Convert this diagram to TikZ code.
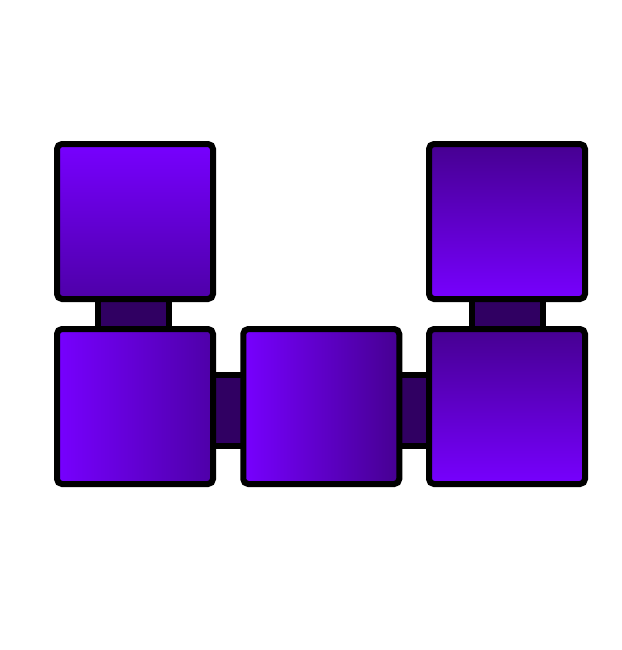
\documentclass[tikz,border=0pt]{standalone}
\begin{document}
\begin{tikzpicture}[x=1pt,y=-1pt,
  box/.style={draw=black,line width=6pt,rounded corners=5pt,inner sep=0pt,minimum width=156pt,minimum height=155pt},
  conn/.style={fill=conncol,draw=black,line width=6pt}]
\definecolor{vtop}{RGB}{119,0,255}
\definecolor{vbot}{RGB}{78,0,168}
\definecolor{vdark}{RGB}{70,0,145}
\definecolor{conncol}{RGB}{48,0,98}
\useasboundingbox[fill=white] (0,0) rectangle (621,650);
% connectors (behind boxes)
\coordinate (c1a) at (98,290); \coordinate (c1b) at (168.5,340);
\coordinate (c2a) at (205,374.7); \coordinate (c2b) at (250,446);
\coordinate (c3a) at (392,374.7); \coordinate (c3b) at (437,446);
\coordinate (c4a) at (472,290); \coordinate (c4b) at (543,340);
\draw[conn] (c1a) rectangle (c1b);
\draw[conn] (c2a) rectangle (c2b);
\draw[conn] (c3a) rectangle (c3b);
\draw[conn] (c4a) rectangle (c4b);
% boxes
\node[box,top color=vtop,bottom color=vbot] (tl) at (135,221.5) {};
\node[box,left color=vtop,right color=vbot] (bl) at (135,406.5) {};
\node[box,left color=vtop,right color=vdark] (bm) at (321.25,406.5) {};
\node[box,top color=vdark,bottom color=vtop] (br) at (507,406.5) {};
\node[box,top color=vdark,bottom color=vtop] (tr) at (507,221.5) {};
\end{tikzpicture}
\end{document}
